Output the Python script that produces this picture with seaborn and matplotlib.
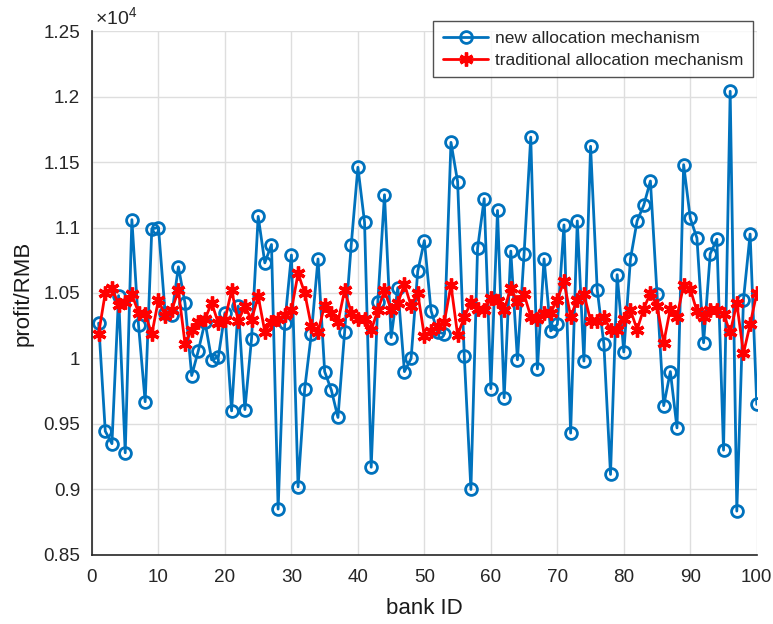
import numpy as np
import pandas as pd
import matplotlib
matplotlib.use('Agg')
import matplotlib.pyplot as plt
import seaborn as sns
from matplotlib.ticker import FuncFormatter, MultipleLocator

# bank IDs 1..100
bank_id = list(range(1, 101))

# profit (RMB) under the new allocation mechanism
new_profit = [
    10270, 9445, 9350, 10480, 9280, 11060, 10255, 9670, 10990, 11000,
    10350, 10335, 10700, 10420, 9870, 10060, 10280, 9990, 10010, 10350,
    9600, 10400, 9610, 10150, 11085, 10730, 10870, 8850, 10270, 10790,
    9020, 9770, 10190, 10760, 9900, 9760, 9550, 10200, 10870, 11460,
    11040, 9170, 10435, 11250, 10160, 10540, 9900, 10000, 10665, 10900,
    10365, 10200, 10190, 11650, 11350, 10020, 9000, 10840, 11220, 9770,
    11130, 9700, 10820, 9990, 10800, 11690, 9920, 10760, 10210, 10260,
    11020, 9430, 11050, 9980, 11620, 10525, 10110, 9115, 10640, 10050,
    10760, 11050, 11170, 11355, 10490, 9640, 9900, 9470, 11480, 11070,
    10920, 10120, 10800, 10910, 9300, 12040, 8835, 10450, 10950, 9650,
]

# profit (RMB) under the traditional allocation mechanism
trad_profit = [
    10190, 10500, 10540, 10410, 10430, 10490, 10350, 10340, 10185, 10450,
    10325, 10370, 10520, 10110, 10220, 10275, 10300, 10425, 10270, 10295,
    10520, 10285, 10400, 10295, 10475, 10205, 10280, 10300, 10330, 10370,
    10650, 10500, 10245, 10200, 10410, 10350, 10280, 10520, 10350, 10300,
    10300, 10215, 10370, 10520, 10370, 10420, 10570, 10400, 10500, 10170,
    10210, 10250, 10280, 10560, 10180, 10315, 10430, 10380, 10370, 10460,
    10440, 10370, 10540, 10430, 10490, 10320, 10300, 10350, 10350, 10450,
    10590, 10320, 10450, 10490, 10290, 10290, 10320, 10220, 10220, 10300,
    10370, 10220, 10380, 10500, 10400, 10120, 10380, 10320, 10560, 10530,
    10360, 10320, 10370, 10370, 10340, 10200, 10420, 10040, 10260, 10500,
]

df = pd.DataFrame({'bank': bank_id, 'new': new_profit, 'trad': trad_profit})

sns.set_style('white')
plt.rcParams['font.family'] = ['Liberation Sans', 'DejaVu Sans']
plt.rcParams['mathtext.fontset'] = 'custom'
plt.rcParams['mathtext.rm'] = 'Liberation Sans'
plt.rcParams['mathtext.it'] = 'Liberation Sans'

fig = plt.figure(figsize=(7.73, 6.24), dpi=100)
ax = fig.add_axes([0.119, 0.1106, 0.860, 0.8397])

blue = '#0072BD'
red = '#FF0000'

sns.lineplot(data=df, x='bank', y='new', ax=ax, color=blue, linewidth=2.0,
             marker='o', markersize=8.5, markerfacecolor='none',
             markeredgecolor=blue, markeredgewidth=2.0,
             label='new allocation mechanism')
sns.lineplot(data=df, x='bank', y='trad', ax=ax, color=red, linewidth=2.0,
             marker=(6, 2, 0), markersize=10, markerfacecolor=red,
             markeredgecolor=red, markeredgewidth=2.4,
             label='traditional allocation mechanism')

ax.set_xlim(0, 100)
ax.set_ylim(8500, 12500)
ax.xaxis.set_major_locator(MultipleLocator(10))
ax.yaxis.set_major_locator(MultipleLocator(500))
ax.yaxis.set_major_formatter(FuncFormatter(lambda v, p: f'{v / 1e4:g}'))

ax.grid(True, color='#dedede', linewidth=1.0)
ax.set_axisbelow(True)
for side in ['top', 'right']:
    ax.spines[side].set_visible(False)
for side in ['left', 'bottom']:
    ax.spines[side].set_color('#262626')
    ax.spines[side].set_linewidth(1.2)
ax.tick_params(direction='in', length=6, width=1.2, color='#262626',
               labelcolor='#262626', labelsize=13.6)
ax.tick_params(axis='x', pad=10)
ax.tick_params(axis='y', pad=8.5)

ax.set_xlabel('bank ID', fontsize=16, color='#1a1a1a', labelpad=9)
ax.set_ylabel('profit/RMB', fontsize=16, color='#1a1a1a', labelpad=7)

ax.text(0.004, 1.005, r'$\times10^{4}$', transform=ax.transAxes,
        fontsize=14, color='#262626', ha='left', va='bottom')

leg = ax.legend(loc='upper right', bbox_to_anchor=(753 / 773, 1 - 21 / 624),
                bbox_transform=fig.transFigure, borderaxespad=0,
                fontsize=12.5, frameon=True, fancybox=False,
                edgecolor='#262626', handlelength=2.6, handletextpad=0.4,
                labelspacing=0.4, borderpad=0.55)
leg.get_frame().set_linewidth(1.0)

fig.savefig('out.png', dpi=100)
